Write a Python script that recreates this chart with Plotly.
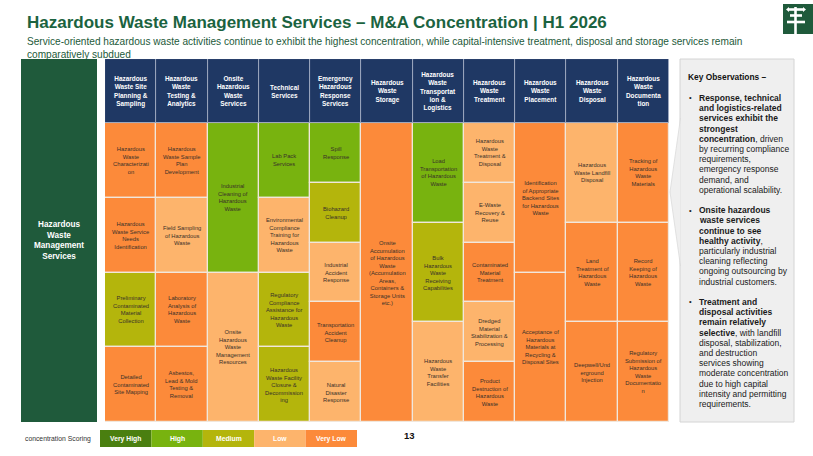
import plotly.graph_objects as go

W, H = 813, 456

# ---------------- data ----------------
SCORES = ["Very High", "High", "Medium", "Low", "Very Low"]
SCORE_COLORS = ["#4a7f10", "#78b30f", "#b4b50c", "#fdb46c", "#fc8a3a"]

HEADERS = [
    "Hazardous<br>Waste Site<br>Planning &<br>Sampling",
    "Hazardous<br>Waste<br>Testing &<br>Analytics",
    "Onsite<br>Hazardous<br>Waste<br>Services",
    "Technical<br>Services",
    "Emergency<br>Hazardous<br>Response<br>Services",
    "Hazardous<br>Waste<br>Storage",
    "Hazardous<br>Waste<br>Transportat<br>ion &<br>Logistics",
    "Hazardous<br>Waste<br>Treatment",
    "Hazardous<br>Waste<br>Placement",
    "Hazardous<br>Waste<br>Disposal",
    "Hazardous<br>Waste<br>Documenta<br>tion",
]

CELL_LABELS = [
    ["Hazardous<br>Waste<br>Characterizati<br>on",
     "Hazardous<br>Waste Service<br>Needs<br>Identification",
     "Preliminary<br>Contaminated<br>Material<br>Collection",
     "Detailed<br>Contaminated<br>Site Mapping"],
    ["Hazardous<br>Waste Sample<br>Plan<br>Development",
     "Field Sampling<br>of Hazardous<br>Waste",
     "Laboratory<br>Analysis of<br>Hazardous<br>Waste",
     "Asbestos,<br>Lead & Mold<br>Testing &<br>Removal"],
    ["Industrial<br>Cleaning of<br>Hazardous<br>Waste",
     "Onsite<br>Hazardous<br>Waste<br>Management<br>Resources"],
    ["Lab Pack<br>Services",
     "Environmental<br>Compliance<br>Training for<br>Hazardous<br>Waste",
     "Regulatory<br>Compliance<br>Assistance for<br>Hazardous<br>Waste",
     "Hazardous<br>Waste Facility<br>Closure &<br>Decommission<br>ing"],
    ["Spill<br>Response",
     "Biohazard<br>Cleanup",
     "Industrial<br>Accident<br>Response",
     "Transportation<br>Accident<br>Cleanup",
     "Natural<br>Disaster<br>Response"],
    ["Onsite<br>Accumulation<br>of Hazardous<br>Waste<br>(Accumulation<br>Areas,<br>Containers &<br>Storage Units<br>etc.)"],
    ["Load<br>Transportation<br>of Hazardous<br>Waste",
     "Bulk<br>Hazardous<br>Waste<br>Receiving<br>Capabilities",
     "Hazardous<br>Waste<br>Transfer<br>Facilities"],
    ["Hazardous<br>Waste<br>Treatment &<br>Disposal",
     "E-Waste<br>Recovery &<br>Reuse",
     "Contaminated<br>Material<br>Treatment",
     "Dredged<br>Material<br>Stabilization &<br>Processing",
     "Product<br>Destruction of<br>Hazardous<br>Waste"],
    ["Identification<br>of Appropriate<br>Backend Sites<br>for Hazardous<br>Waste",
     "Acceptance of<br>Hazardous<br>Materials at<br>Recycling &<br>Disposal Sites"],
    ["Hazardous<br>Waste Landfill<br>Disposal",
     "Land<br>Treatment of<br>Hazardous<br>Waste",
     "Deepwell/Und<br>erground<br>Injection"],
    ["Tracking of<br>Hazardous<br>Waste<br>Materials",
     "Record<br>Keeping of<br>Hazardous<br>Waste",
     "Regulatory<br>Submission of<br>Hazardous<br>Waste<br>Documentatio<br>n"],
]

CELL_SCORES = [
    ["Very Low", "Very Low", "Medium", "Very Low"],
    ["Very Low", "Low", "Very Low", "Very Low"],
    ["High", "Low"],
    ["High", "Low", "Medium", "Medium"],
    ["High", "Medium", "Low", "Very Low", "Low"],
    ["Very Low"],
    ["High", "Medium", "Low"],
    ["Low", "Low", "Very Low", "Low", "Very Low"],
    ["Very Low", "Very Low"],
    ["Low", "Very Low", "Very Low"],
    ["Very Low", "Very Low", "Very Low"],
]

ROW_LABEL = "Hazardous<br>Waste<br>Management<br>Services"

TITLE = "Hazardous Waste Management Services – M&A Concentration | H1 2026"
SUBTITLE = ("Service-oriented hazardous waste activities continue to exhibit the highest concentration, "
            "while capital-intensive treatment, disposal and storage services remain<br>comparatively subdued")

OBS_TITLE = "Key Observations –"
OBS_BULLETS = [
    ["<b>Response, technical</b>", "<b>and logistics-related</b>", "<b>services exhibit the</b>",
     "<b>strongest</b>", "<b>concentration</b>, driven", "by recurring compliance", "requirements,",
     "emergency response", "demand, and", "operational scalability."],
    ["<b>Onsite hazardous</b>", "<b>waste services</b>", "<b>continue to see</b>",
     "<b>healthy activity</b>,", "particularly industrial", "cleaning reflecting",
     "ongoing outsourcing by", "industrial customers."],
    ["<b>Treatment and</b>", "<b>disposal activities</b>", "<b>remain relatively</b>",
     "<b>selective</b>, with landfill", "disposal, stabilization,", "and destruction",
     "services showing", "moderate concentration", "due to high capital",
     "intensity and permitting", "requirements."],
]

LEGEND_TITLE = "concentration Scoring"
PAGE_NO = "13"

# ---------------- helpers (pixel -> paper for decoration) ----------------
def px(x):
    return x / W

def py(y):
    return 1 - y / H

FONT = "Arial, 'Liberation Sans', sans-serif"
HDR = 64 / 299  # header height relative to body height

color_of = dict(zip(SCORES, SCORE_COLORS))

def pann(x, y, text, size, color, xanchor="center", yanchor="middle", align="center"):
    return dict(x=px(x), y=py(y), xref="paper", yref="paper", text=text, showarrow=False,
                xanchor=xanchor, yanchor=yanchor, align=align,
                font=dict(family=FONT, size=size, color=color))

# ---------------- body cells as stacked bars ----------------
bx, bbase, bh, bcol, ann = [], [], [], [], []
for ci, (labels, scores) in enumerate(zip(CELL_LABELS, CELL_SCORES)):
    n = len(labels)
    for ri, (lab, sc) in enumerate(zip(labels, scores)):
        base = ri / n
        bx.append(ci)
        bbase.append(base)
        bh.append(1 / n)
        bcol.append(color_of[sc])
        ann.append(dict(x=ci, y=base + 0.5 / n, xref="x", yref="y", text=lab, showarrow=False,
                        xanchor="center", yanchor="middle",
                        font=dict(family=FONT, size=5.8, color="#3a3129"), align="center"))

fig = go.Figure()
fig.add_trace(go.Bar(x=bx, y=bh, base=bbase, width=1,
                     marker=dict(color=bcol, line=dict(color="#f1e7dc", width=1.2)),
                     hoverinfo="skip", showlegend=False))
# header row
fig.add_trace(go.Bar(x=list(range(len(HEADERS))), y=[HDR] * len(HEADERS), base=[-HDR] * len(HEADERS),
                     width=1, marker=dict(color="#1f3864", line=dict(color="#aab4c8", width=0.8)),
                     hoverinfo="skip", showlegend=False))
for ci, h in enumerate(HEADERS):
    ann.append(dict(x=ci, y=-HDR / 2, xref="x", yref="y", text="<b>" + h + "</b>", showarrow=False,
                    xanchor="center", yanchor="middle",
                    font=dict(family=FONT, size=6.4, color="white"), align="center"))

shapes = []
# left row label block
shapes.append(dict(type="rect", xref="paper", yref="paper", x0=px(21), x1=px(97), y0=py(422), y1=py(59),
                   fillcolor="#1f5a3b", line=dict(width=0), layer="below"))
ann.append(pann(59, 240, "<b>" + ROW_LABEL + "</b>", 8.2, "white"))

# title / subtitle
ann.append(pann(25, 23, "<b>" + TITLE + "</b>", 17, "#1b6340", xanchor="left"))
ann.append(pann(25, 34, SUBTITLE, 10.1, "#1d5a3a", xanchor="left", yanchor="top", align="left"))

# logo
shapes.append(dict(type="rect", xref="paper", yref="paper", x0=px(783), x1=px(813), y0=py(34), y1=py(4),
                   fillcolor="#1f5a3b", line=dict(width=0)))
for (x0, y0, x1, y1) in [(795.5, 7, 795.5, 34), (788, 9.5, 804, 9.5), (790, 15.5, 802, 15.5), (787, 22, 805, 22)]:
    shapes.append(dict(type="line", xref="paper", yref="paper", x0=px(x0), y0=py(y0), x1=px(x1), y1=py(y1),
                       line=dict(color="white", width=2.6)))
for (xa, xb) in [(786, 789), (806, 803)]:
    shapes.append(dict(type="path", xref="paper", yref="paper",
                       path=f"M {px(xa)},{py(9.5)} L {px(xb)},{py(7)} L {px(xb)},{py(12)} Z",
                       fillcolor="white", line=dict(width=0)))

# observation panel
shapes.append(dict(type="rect", xref="paper", yref="paper", x0=px(680), x1=px(794), y0=py(422), y1=py(59),
                   fillcolor="#efefef", line=dict(color="#d4d4d4", width=1)))
shapes.append(dict(type="path", xref="paper", yref="paper",
                   path=f"M {px(680.5)},{py(118)} L {px(670)},{py(192)} L {px(680.5)},{py(266)}",
                   fillcolor="#efefef", line=dict(color="#dadada", width=0.8)))
ann.append(pann(685.5, 77.5, "<b>" + OBS_TITLE + "</b>", 8.4, "#111111", xanchor="left"))
line_idx = 2
for bullet in OBS_BULLETS:
    ann.append(pann(686.5, 77.5 + 10.2 * line_idx, "•", 7.5, "#222222", xanchor="left"))
    for ln in bullet:
        ann.append(pann(696.5, 77.5 + 10.2 * line_idx, ln, 8.5, "#1a1a1a", xanchor="left"))
        line_idx += 1
    line_idx += 1

# legend
ann.append(pann(93, 438.5, LEGEND_TITLE, 6.8, "#333333", xanchor="right"))
lw = (357 - 100) / len(SCORES)
for i, (s, c) in enumerate(zip(SCORES, SCORE_COLORS)):
    x0 = 100 + i * lw
    shapes.append(dict(type="rect", xref="paper", yref="paper", x0=px(x0), x1=px(x0 + lw),
                       y0=py(447), y1=py(430), fillcolor=c, line=dict(width=0)))
    ann.append(pann(x0 + lw / 2, 438.5, "<b>" + s + "</b>", 6.8, "white"))
ann.append(pann(409.5, 435.5, "<b>" + PAGE_NO + "</b>", 9.5, "#111111"))

fig.update_layout(
    width=W, height=H, margin=dict(l=0, r=0, t=0, b=0),
    paper_bgcolor="white", plot_bgcolor="white",
    barmode="overlay", bargap=0, hovermode=False,
    xaxis=dict(range=[-0.5, len(HEADERS) - 0.5], domain=[px(105), px(669)], visible=False, fixedrange=True),
    yaxis=dict(range=[1, -HDR], domain=[py(422), py(59)], visible=False, fixedrange=True),
    shapes=shapes, annotations=ann, showlegend=False,
)

fig.write_html("out.html", config={"displayModeBar": False},
               post_script="document.body.style.margin='0px';")
